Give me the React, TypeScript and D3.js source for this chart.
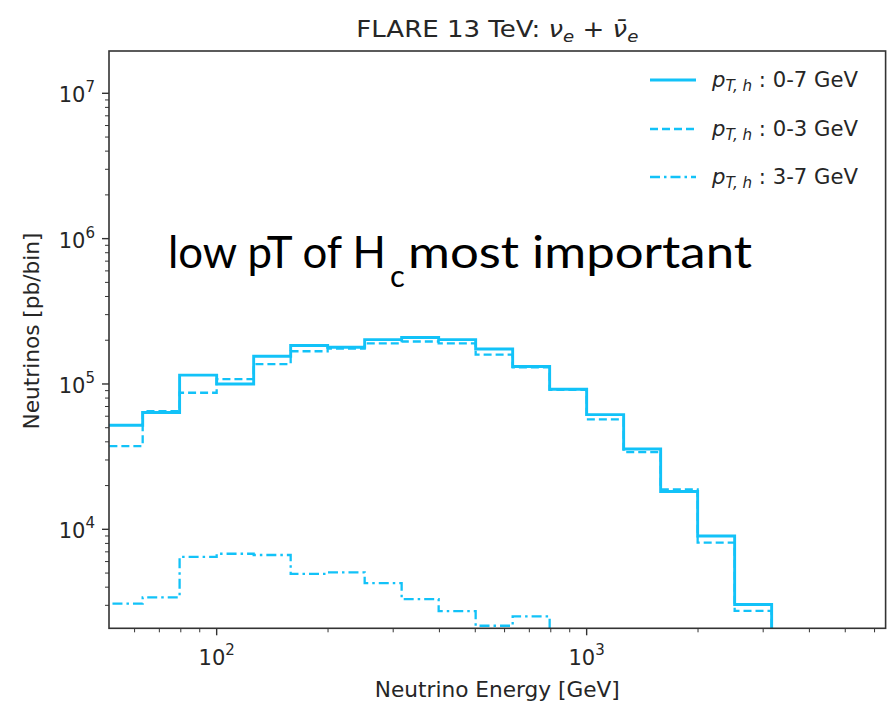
import React from 'react';
import * as d3 from 'd3';

// Histogram bin edges (GeV)
const binEdges = [50.1, 63.1, 79.4, 100, 125.9, 158.5, 199.5, 251.2, 316.2, 398.1, 501.2, 631.0, 794.3, 1000, 1258.9, 1584.9, 1995.3, 2511.9, 3162.3];
// Series values (pb/bin)
const pt07 = [5.2e4, 6.36e4, 1.15e5, 1.0e5, 1.55e5, 1.84e5, 1.79e5, 2.02e5, 2.09e5, 2.02e5, 1.74e5, 1.32e5, 9.2e4, 6.15e4, 3.57e4, 1.82e4, 9.0e3, 3.04e3];
const pt03 = [3.74e4, 6.5e4, 8.7e4, 1.08e5, 1.37e5, 1.68e5, 1.75e5, 1.9e5, 1.96e5, 1.9e5, 1.59e5, 1.3e5, 9.1e4, 5.7e4, 3.4e4, 1.88e4, 8.1e3, 2.75e3];
const pt37 = [3.08e3, 3.4e3, 6.47e3, 6.79e3, 6.66e3, 4.94e3, 5.06e3, 4.27e3, 3.31e3, 2.74e3, 2.17e3, 2.52e3, 0, 0, 0, 0, 0, 0];
const seriesLabels = ['0-7 GeV', '0-3 GeV', '3-7 GeV'];
const xMajorTicks = [100, 1000];
const yMajorTicks = [1e4, 1e5, 1e6, 1e7];

const W = 888, H = 702;
const L = 109, R = 885.6, T = 51, B = 628.3;
const COLOR = '#12c2f8';
const TXT = '#262626';
const FONT = 'DejaVu Sans';

const x = d3.scaleLog().domain([Math.pow(10, 1.709), Math.pow(10, 3.808)]).range([L, R]);
const y = d3.scaleLog().domain([Math.pow(10, 3.319), Math.pow(10, 7.291)]).range([B, T]);

function stepPath(vals: number[]): string {
  const pts: [number, number][] = [];
  const low = B + 30;
  pts.push([x(binEdges[0]), low]);
  vals.forEach((v, i) => {
    const yy = v > 0 ? y(v) : low;
    pts.push([x(binEdges[i]), yy]);
    pts.push([x(binEdges[i + 1]), yy]);
  });
  pts.push([x(binEdges[binEdges.length - 1]), low]);
  return d3.line()(pts) || '';
}

const styles = [
  { vals: pt07, dash: undefined as string | undefined, width: 2.9 },
  { vals: pt03, dash: '8,4', width: 2.3 },
  { vals: pt37, dash: '10,4,2.5,4', width: 2.3 },
];

function expOf(v: number) {
  return Math.round(Math.log10(v));
}

export default function App() {
  const xMinor = x.ticks().filter((t) => !xMajorTicks.includes(t));
  const yMinor = y.ticks().filter((t) => !yMajorTicks.includes(t));
  const legendY = [80, 129, 177];
  return (
    <svg width={W} height={H} style={{ position: 'absolute', left: 0, top: 0, background: '#fff' }} fontFamily={FONT}>
      <rect x={0} y={0} width={W} height={H} fill="#fff" />
      <defs>
        <clipPath id="plotclip">
          <rect x={L} y={T} width={R - L} height={B - T} />
        </clipPath>
      </defs>

      {/* title */}
      <text x={(L + R) / 2} y={37} textAnchor="middle" fontSize={23} fill={TXT} textLength={282} lengthAdjust="spacingAndGlyphs">
        <tspan>FLARE 13 TeV: </tspan>
        <tspan fontStyle="italic">ν</tspan>
        <tspan fontStyle="italic" fontSize={16} dy={5}>e</tspan>
        <tspan dy={-5}> + </tspan>
        <tspan fontStyle="italic">ν̄</tspan>
        <tspan fontStyle="italic" fontSize={16} dy={5}>e</tspan>
      </text>

      {/* histograms */}
      <g clipPath="url(#plotclip)">
        {styles.map((s, i) => (
          <path key={i} d={stepPath(s.vals)} fill="none" stroke={COLOR} strokeWidth={s.width} strokeDasharray={s.dash} strokeLinejoin="miter" />
        ))}
      </g>

      {/* frame */}
      <rect x={L} y={T} width={R - L} height={B - T} fill="none" stroke="#333" strokeWidth={1.6} />

      {/* x ticks */}
      {xMajorTicks.map((t) => (
        <g key={'xM' + t}>
          <line x1={x(t)} x2={x(t)} y1={B} y2={B + 7} stroke="#333" strokeWidth={1.4} />
          <text x={x(t)} y={B + 37} textAnchor="middle" fontSize={21} fill={TXT}>
            <tspan>10</tspan>
            <tspan fontSize={15} dy={-10}>{expOf(t)}</tspan>
          </text>
        </g>
      ))}
      {xMinor.map((t) => (
        <line key={'xm' + t} x1={x(t)} x2={x(t)} y1={B} y2={B + 4} stroke="#333" strokeWidth={1} />
      ))}

      {/* y ticks */}
      {yMajorTicks.map((t) => (
        <g key={'yM' + t}>
          <line x1={L - 7} x2={L} y1={y(t)} y2={y(t)} stroke="#333" strokeWidth={1.4} />
          <text x={L - 14} y={y(t) + 9} textAnchor="end" fontSize={21} fill={TXT}>
            <tspan>10</tspan>
            <tspan fontSize={15} dy={-10}>{expOf(t)}</tspan>
          </text>
        </g>
      ))}
      {yMinor.map((t) => (
        <line key={'ym' + t} x1={L - 4} x2={L} y1={y(t)} y2={y(t)} stroke="#333" strokeWidth={1} />
      ))}

      {/* axis labels */}
      <text x={(L + R) / 2} y={697} textAnchor="middle" fontSize={21} fill={TXT} textLength={245} lengthAdjust="spacingAndGlyphs">
        Neutrino Energy [GeV]
      </text>
      <text transform={`translate(39,${331}) rotate(-90)`} textAnchor="middle" fontSize={21} fill={TXT} textLength={197} lengthAdjust="spacingAndGlyphs">
        Neutrinos [pb/bin]
      </text>

      {/* legend */}
      {styles.map((s, i) => (
        <g key={'lg' + i}>
          <line x1={650} x2={696} y1={legendY[i]} y2={legendY[i]} stroke={COLOR} strokeWidth={s.width + 0.3} strokeDasharray={s.dash} />
          <text x={712} y={legendY[i] + 7} fontSize={21} fill={TXT} textLength={146} lengthAdjust="spacingAndGlyphs">
            <tspan fontStyle="italic">p</tspan>
            <tspan fontStyle="italic" fontSize={15} dy={4}>T, h</tspan>
            <tspan dy={-4}> : {seriesLabels[i]}</tspan>
          </text>
        </g>
      ))}

      {/* annotation */}
      <text x={168} y={268} fontFamily="Lato" fontSize={45} fill="#000">
        <tspan textLength={218} lengthAdjust="spacingAndGlyphs">low pT of H</tspan>
        <tspan x={390} y={287} fontSize={31}>c</tspan>
        <tspan x={408} y={268} textLength={344} lengthAdjust="spacingAndGlyphs">most important</tspan>
      </text>
    </svg>
  );
}
